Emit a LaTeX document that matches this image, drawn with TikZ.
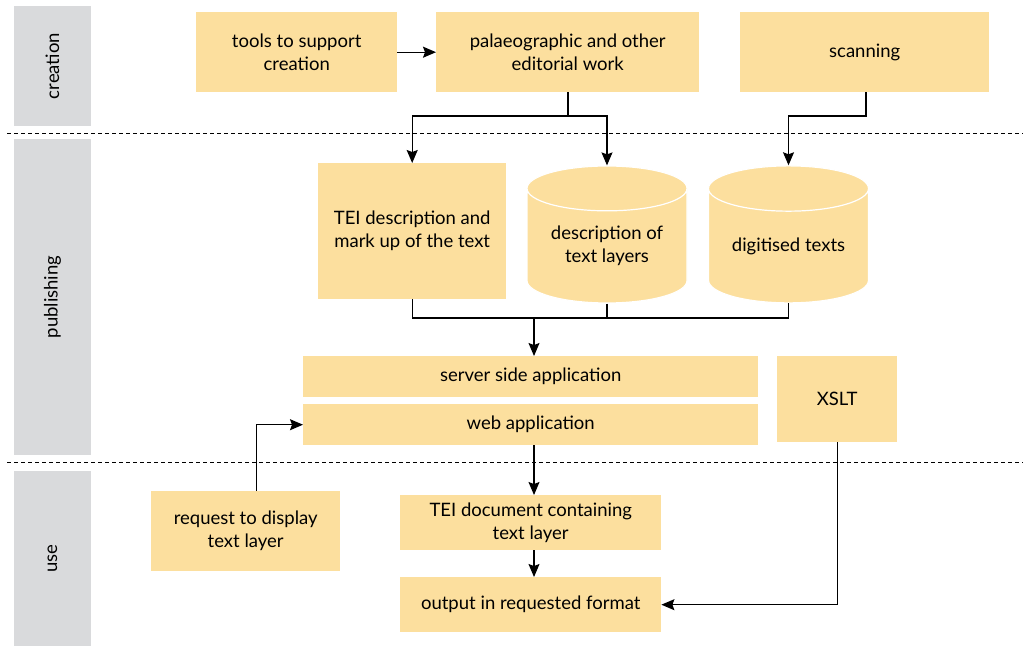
\documentclass[tikz,border=0pt]{standalone}
\usepackage{fontspec}
\setmainfont{Lato}
\usepackage{tikz}
\usetikzlibrary{shapes.geometric, arrows.meta, positioning}
\definecolor{sand}{HTML}{FCDF9E}
\definecolor{lanegray}{HTML}{D9DADC}

\begin{document}
\begin{tikzpicture}[
    x=1pt, y=-1pt,
    box/.style={rectangle, fill=sand, draw=none, anchor=north west, align=center, inner sep=0pt},
    store/.style={cylinder, shape border rotate=90, aspect=0.4, fill=sand, draw=white, line width=1.2pt, align=center, minimum width=160pt, minimum height=137pt, inner sep=0pt},
    lane/.style={rectangle, fill=lanegray, rotate=90, minimum height=77pt, inner sep=0pt},
    arrow/.style={-{Stealth[length=13pt, width=11pt, inset=2pt]}, line width=1.2pt},
    link/.style={line width=1.2pt},
    sep/.style={dash pattern=on 4pt off 3pt, line width=0.9pt},
    every node/.append style={font=\fontsize{18.5}{23}\selectfont}
]
    \useasboundingbox (0,0) rectangle (1023,646);

    % Lanes
    \node[lane, minimum width=120pt] (creation) at (52.5,66) {creation};
    \node[lane, minimum width=316pt] (publishing) at (52.5,297) {publishing};
    \node[lane, minimum width=175pt] (use) at (52.5,558.5) {use};
    \draw[sep] (7,133) -- (1023,133);
    \draw[sep] (7,462) -- (1023,462);

    % Creation
    \node[box, minimum width=201pt, minimum height=80pt] (tools) at (196,12) {tools to support\\creation};
    \node[box, minimum width=263pt, minimum height=80pt] (pal) at (436,12) {palaeographic and other\\editorial work};
    \node[box, minimum width=249pt, minimum height=80pt] (scan) at (740,12) {scanning};

    % Publishing
    \node[box, minimum width=188pt, minimum height=136pt] (tei) at (318,163) {TEI description and\\mark up of the text};
    \node[store] (desc) at (607,246) {description of\\text layers};
    \node[store] (dig) at (788.5,246) {digitised texts};
    \node[box, minimum width=455pt, minimum height=41pt] (server) at (303,356) {server side application};
    \node[box, minimum width=455pt, minimum height=41pt] (web) at (303,404) {web application};
    \node[box, minimum width=120pt, minimum height=86pt] (xslt) at (777,356) {XSLT};

    % Use
    \node[box, minimum width=189pt, minimum height=80pt] (request) at (151,491) {request to display\\text layer};
    \node[box, minimum width=261pt, minimum height=55pt] (teidoc) at (400,495) {TEI document containing\\text layer};
    \node[box, minimum width=261pt, minimum height=55pt] (output) at (400,577) {output in requested format};

    % Connections
    \coordinate (split) at (568,116);
    \coordinate (scansplit) at (866,116);
    \coordinate (merge) at (534,318);
    \draw[arrow] (tools.east) -- (pal.west);
    \draw[link] (pal.south -| split) -- (split);
    \draw[arrow] (split) -| (tei.north);
    \draw[arrow] (split) -| (desc.north);
    \draw[arrow] (scan.south -| scansplit) -- (scansplit) -| (dig.north);
    \draw[link] (tei.south) -- (tei.south |- merge) -| (dig.south);
    \draw[link] (desc.south) -- (desc.south |- merge);
    \draw[arrow] (merge) -- (merge |- server.north);
    \draw[arrow] ([xshift=11pt]request.north) |- (web.west);
    \draw[arrow] (web.south -| merge) -- (teidoc.north -| merge);
    \draw[arrow] (teidoc.south -| merge) -- (output.north -| merge);
    \draw[arrow] (xslt.south) |- (output.east);

\end{tikzpicture}
\end{document}
